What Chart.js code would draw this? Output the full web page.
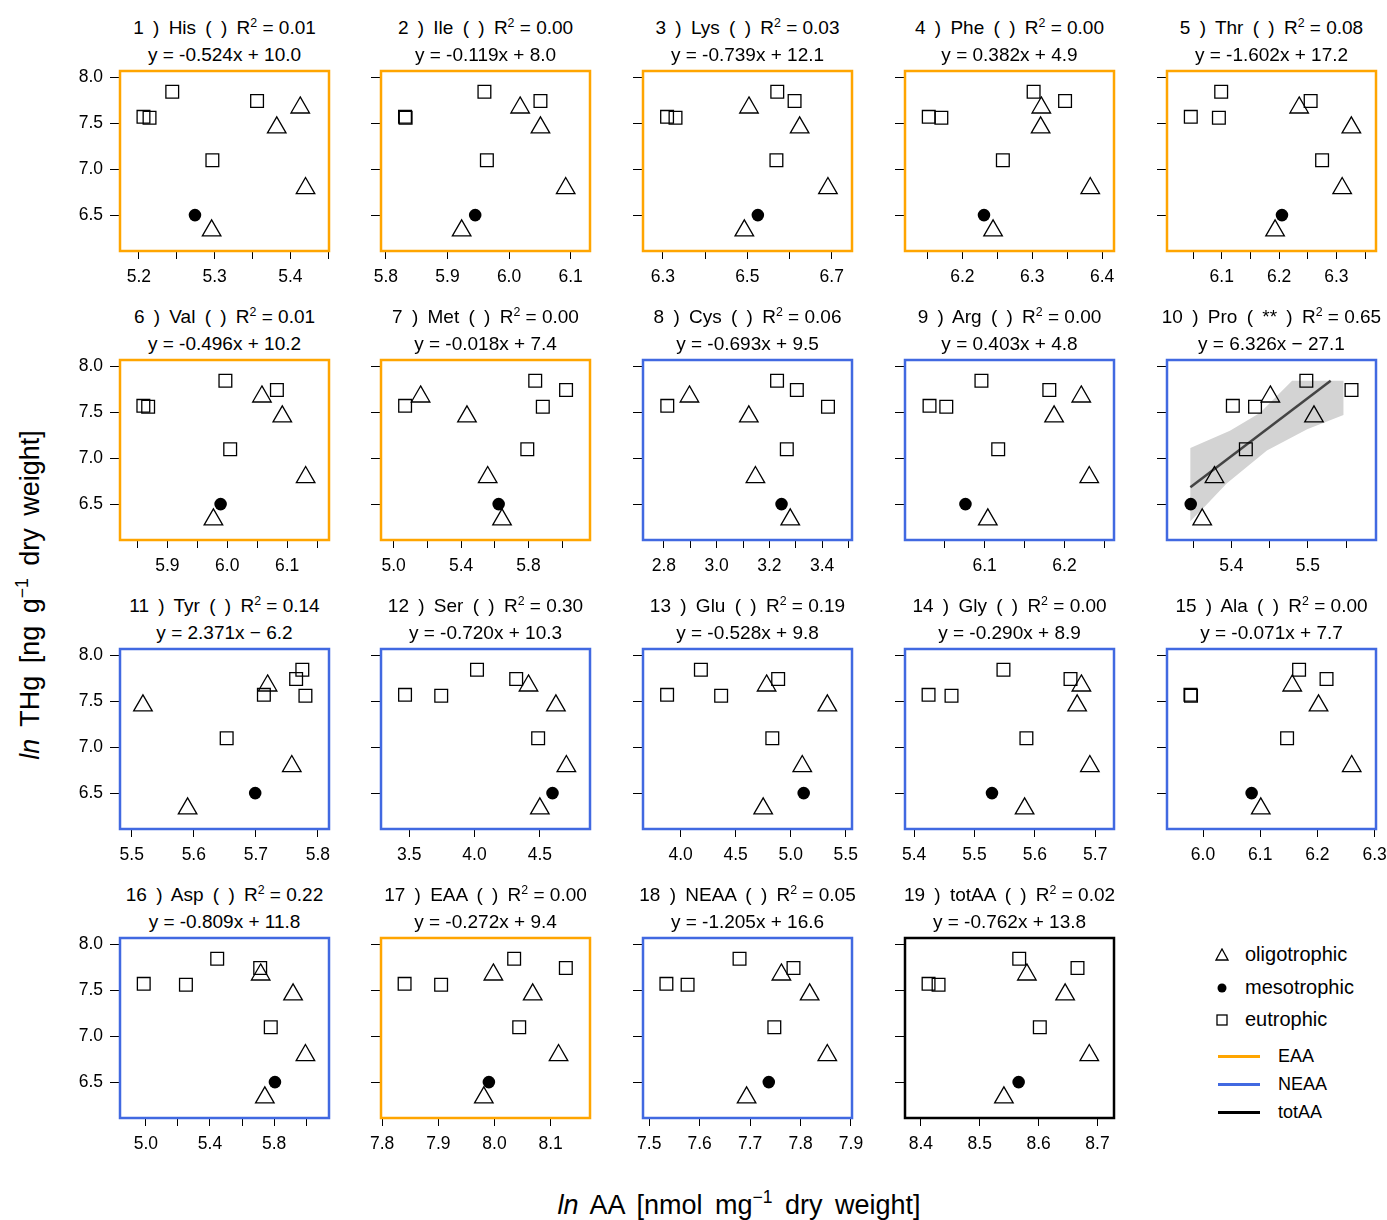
<!DOCTYPE html>
<html>
<head>
<meta charset="utf-8">
<script src="https://cdn.jsdelivr.net/npm/chart.js@4.4.1/dist/chart.umd.min.js"></script>
<style>
  body { margin: 0; background: #fff; width: 1387px; height: 1220px; position: relative; overflow: hidden;
         font-family: "Liberation Sans", Arial, sans-serif; color: #000; }
  canvas { position: absolute; }
  .ttl { position: absolute; width: 300px; text-align: center; font-size: 19px; line-height: 22px; white-space: nowrap; }
  .ws { word-spacing: 4px; }
  sup { font-size: 0.65em; line-height: 0; vertical-align: 0.6em; }
  .axt { position: absolute; font-size: 27px; line-height: 30px; white-space: nowrap; text-align: center; word-spacing: 5px; }
  .lg { position: absolute; white-space: nowrap; }
</style>
</head>
<body>
<script>
// ---- panel info ----
const aaNames = ['His', 'Ile', 'Lys', 'Phe', 'Thr', 'Val', 'Met', 'Cys', 'Arg', 'Pro',
                 'Tyr', 'Ser', 'Glu', 'Gly', 'Ala', 'Asp', 'EAA', 'NEAA', 'totAA'];
const aaClass = ['EAA', 'EAA', 'EAA', 'EAA', 'EAA', 'EAA', 'EAA', 'NEAA', 'NEAA', 'NEAA',
                 'NEAA', 'NEAA', 'NEAA', 'NEAA', 'NEAA', 'NEAA', 'EAA', 'NEAA', 'totAA'];
const signif = ['', '', '', '', '', '', '', '', '', '**', '', '', '', '', '', '', '', '', ''];
const r2Text = ['0.01', '0.00', '0.03', '0.00', '0.08', '0.01', '0.00', '0.06', '0.00', '0.65',
                '0.14', '0.30', '0.19', '0.00', '0.00', '0.22', '0.00', '0.05', '0.02'];
const fitText = ['y = -0.524x + 10.0', 'y = -0.119x + 8.0', 'y = -0.739x + 12.1', 'y = 0.382x + 4.9',
                 'y = -1.602x + 17.2', 'y = -0.496x + 10.2', 'y = -0.018x + 7.4', 'y = -0.693x + 9.5',
                 'y = 0.403x + 4.8', 'y = 6.326x \u2212 27.1', 'y = 2.371x \u2212 6.2', 'y = -0.720x + 10.3',
                 'y = -0.528x + 9.8', 'y = -0.290x + 8.9', 'y = -0.071x + 7.7', 'y = -0.809x + 11.8',
                 'y = -0.272x + 9.4', 'y = -1.205x + 16.6', 'y = -0.762x + 13.8'];

// ---- ln THg (same samples in every panel) ----
const yOligo = [7.671, 7.454, 6.796, 6.336];
const yMeso = [6.504];
const yEutro = [7.843, 7.743, 7.571, 7.561, 7.100];

// ---- ln AA per panel ----
const xOligo = [
  [5.413, 5.382, 5.420, 5.296], [6.018, 6.051, 6.092, 5.923], [6.504, 6.624, 6.691, 6.493],
  [6.313, 6.312, 6.383, 6.244], [6.235, 6.326, 6.310, 6.193], [6.058, 6.092, 6.131, 5.977],
  [5.160, 5.435, 5.558, 5.643], [2.897, 3.122, 3.147, 3.279], [6.221, 6.187, 6.231, 6.104],
  [5.451, 5.508, 5.378, 5.362], [5.719, 5.518, 5.758, 5.590], [4.413, 4.623, 4.703, 4.500],
  [4.781, 5.333, 5.105, 4.750], [5.677, 5.670, 5.691, 5.583], [6.156, 6.202, 6.260, 6.101],
  [5.716, 5.918, 5.995, 5.742], [7.998, 8.068, 8.114, 7.981], [7.762, 7.818, 7.853, 7.693],
  [8.580, 8.645, 8.686, 8.541]
];
const xMeso = [5.274, 5.945, 6.525, 6.231, 6.205, 5.989, 5.623, 3.246, 6.076, 5.347,
               5.699, 4.597, 5.118, 5.529, 6.085, 5.805, 7.990, 7.737, 8.566];
const xEutro = [
  [5.244, 5.356, 5.206, 5.214, 5.297], [5.960, 6.051, 5.831, 5.832, 5.964],
  [6.571, 6.612, 6.310, 6.330, 6.569], [6.302, 6.347, 6.152, 6.170, 6.258],
  [6.099, 6.255, 6.046, 6.095, 6.275], [5.997, 6.083, 5.860, 5.868, 6.005],
  [5.840, 6.023, 5.068, 5.885, 5.793], [3.229, 3.304, 2.813, 3.422, 3.266],
  [6.096, 6.181, 6.031, 6.052, 6.117], [5.498, 5.557, 5.402, 5.431, 5.419],
  [5.775, 5.765, 5.713, 5.780, 5.653], [4.019, 4.319, 3.468, 3.745, 4.487],
  [4.184, 4.886, 3.877, 4.368, 4.833], [5.548, 5.659, 5.424, 5.462, 5.586],
  [6.168, 6.216, 5.978, 5.979, 6.147], [5.445, 5.713, 4.987, 5.250, 5.779],
  [8.035, 8.127, 7.840, 7.905, 8.044], [7.679, 7.786, 7.534, 7.576, 7.748],
  [8.567, 8.666, 8.413, 8.430, 8.602]
];

// ---- axis ranges and ticks ----
const xMin = [5.175, 5.792, 6.253, 6.118, 6.0045, 5.821, 4.925, 2.721, 6.0003, 5.316,
              5.481, 3.284, 3.658, 5.385, 5.937, 4.839, 7.798, 7.4876, 8.373];
const xMax = [5.451, 6.1315, 6.748, 6.417, 6.369, 6.170, 6.165, 3.513, 6.262, 5.589,
              5.818, 4.884, 5.557, 5.731, 6.3025, 6.142, 8.170, 7.902, 8.728];
const xStep = [0.05, 0.1, 0.1, 0.05, 0.05, 0.05, 0.2, 0.1, 0.05, 0.05,
               0.1, 0.5, 0.5, 0.1, 0.1, 0.2, 0.1, 0.1, 0.1];
const xTickLabels = [
  [5.2, 5.3, 5.4], [5.8, 5.9, 6.0, 6.1], [6.3, 6.5, 6.7], [6.2, 6.3, 6.4], [6.1, 6.2, 6.3],
  [5.9, 6.0, 6.1], [5.0, 5.4, 5.8], [2.8, 3.0, 3.2, 3.4], [6.1, 6.2], [5.4, 5.5],
  [5.5, 5.6, 5.7, 5.8], [3.5, 4.0, 4.5], [4.0, 4.5, 5.0, 5.5], [5.4, 5.5, 5.6, 5.7],
  [6.0, 6.1, 6.2, 6.3], [5.0, 5.4, 5.8], [7.8, 7.9, 8.0, 8.1], [7.5, 7.6, 7.7, 7.8, 7.9],
  [8.4, 8.5, 8.6, 8.7]
];
const yMin = 6.114, yMax = 8.069, yStep = 0.5;

// ---- Pro fit (panel 10) ----
const proLineX = [5.3465, 5.5298];
const proLineY = [6.686, 7.843];
const proBandX = [5.3465, 5.3982, 5.4377, 5.4794, 5.5465, 5.5465, 5.4991, 5.4465, 5.3939, 5.3654, 5.3465];
const proBandY = [7.114, 7.300, 7.496, 7.843, 7.843, 7.471, 7.318, 7.086, 6.729, 6.479, 6.318];

// ---- layout ----
const classColor = { EAA: '#FFA500', NEAA: '#4169E1', totAA: '#000000' };
const colLeft = [120, 381, 643, 905, 1167];
const rowTop = [69, 358, 647, 936];
const boxW = 209, boxH = 182;
const AXW = 60, AXH = 40, PADT = 10, PADR = 20;

Chart.defaults.font.family = '"Liberation Sans", Arial, sans-serif';
Chart.defaults.font.size = 17.5;
Chart.defaults.color = '#000';

const framePlugin = {
  id: 'frame',
  afterDraw(chart, args, opts) {
    const { ctx, chartArea: a } = chart;
    ctx.save();
    ctx.strokeStyle = opts.color;
    ctx.lineWidth = 2.5;
    ctx.strokeRect(a.left, a.top, a.right - a.left, a.bottom - a.top);
    ctx.restore();
  }
};

function pts(xs, ys) {
  return xs.map(function (x, k) { return { x: x, y: ys[k] }; });
}

function makePanel(i) {
  const col = i % 5, row = Math.floor(i / 5);
  const left = colLeft[col], top = rowTop[row];

  const t1 = document.createElement('div');
  t1.className = 'ttl';
  t1.style.left = (left + boxW / 2 - 150) + 'px';
  t1.style.top = (top - 41 - 11) + 'px';
  t1.innerHTML = '<span class="ws">' + (i + 1) + ' ) ' + aaNames[i] + ' ( ' + signif[i] + ' ) R</span><sup>2</sup> = ' + r2Text[i];
  document.body.appendChild(t1);
  const t2 = document.createElement('div');
  t2.className = 'ttl';
  t2.style.left = (left + boxW / 2 - 150) + 'px';
  t2.style.top = (top - 14 - 11) + 'px';
  t2.textContent = fitText[i];
  document.body.appendChild(t2);

  const cv = document.createElement('canvas');
  cv.width = AXW + boxW + PADR;
  cv.height = PADT + boxH + AXH;
  cv.style.left = (left - AXW) + 'px';
  cv.style.top = (top - PADT) + 'px';
  document.body.appendChild(cv);

  const datasets = [
    {
      label: 'oligotrophic', data: pts(xOligo[i], yOligo), order: 1,
      pointStyle: 'triangle', pointRadius: 10.7, pointBorderWidth: 1.3,
      pointBorderColor: '#000', pointBackgroundColor: 'rgba(0,0,0,0)'
    },
    {
      label: 'mesotrophic', data: pts([xMeso[i]], yMeso), order: 1,
      pointStyle: 'circle', pointRadius: 6.3, pointBorderWidth: 0,
      pointBorderColor: '#000', pointBackgroundColor: '#000'
    },
    {
      label: 'eutrophic', data: pts(xEutro[i], yEutro), order: 1,
      pointStyle: 'rect', pointRadius: 9, pointBorderWidth: 1.3,
      pointBorderColor: '#000', pointBackgroundColor: 'rgba(0,0,0,0)'
    }
  ];
  if (aaNames[i] === 'Pro') {
    datasets.push({
      label: 'band', data: pts(proBandX, proBandY), order: 3, showLine: true,
      fill: 'shape', backgroundColor: '#d3d3d3', borderWidth: 0, borderColor: 'rgba(0,0,0,0)',
      pointRadius: 0, tension: 0
    });
    datasets.push({
      label: 'fit', data: pts(proLineX, proLineY), order: 2, showLine: true,
      borderColor: '#444444', borderWidth: 2.5, pointRadius: 0, fill: false
    });
  }

  new Chart(cv, {
    type: 'scatter',
    data: { datasets: datasets },
    plugins: [framePlugin],
    options: {
      responsive: false,
      animation: false,
      events: [],
      layout: { padding: { top: PADT, right: PADR, left: 0, bottom: 0 } },
      plugins: {
        legend: { display: false },
        tooltip: { enabled: false },
        frame: { color: classColor[aaClass[i]] }
      },
      scales: {
        x: {
          type: 'linear', position: 'bottom', min: xMin[i], max: xMax[i],
          afterFit: function (s) { s.height = AXH; s.paddingLeft = 0; s.paddingRight = 0; },
          grid: { display: true, drawOnChartArea: false, drawTicks: true, tickLength: 8, color: '#000', lineWidth: 1 },
          border: { display: false },
          ticks: {
            stepSize: xStep[i], includeBounds: false, autoSkip: false, maxRotation: 0, padding: 8,
            callback: function (v) {
              return xTickLabels[i].some(function (t) { return Math.abs(t - v) < 1e-6; }) ? v.toFixed(1) : '';
            }
          }
        },
        y: {
          type: 'linear', position: 'left', min: yMin, max: yMax,
          afterFit: function (s) { s.width = AXW; s.paddingTop = 0; s.paddingBottom = 0; },
          grid: { display: true, drawOnChartArea: false, drawTicks: true, tickLength: 10, color: '#000', lineWidth: 1 },
          border: { display: false },
          ticks: {
            stepSize: yStep, includeBounds: false, autoSkip: false, padding: 7,
            callback: function (v) { return col === 0 ? v.toFixed(1) : ''; }
          }
        }
      }
    }
  });
}

for (let i = 0; i < aaNames.length; i++) makePanel(i);

// ---- axis titles ----
const yt = document.createElement('div');
yt.className = 'axt';
yt.style.width = '440px';
yt.style.left = (30 - 220) + 'px';
yt.style.top = (595 - 15) + 'px';
yt.style.transform = 'rotate(-90deg)';
yt.innerHTML = '<i>ln</i> THg [ng g<sup>\u22121</sup> dry weight]';
document.body.appendChild(yt);

const xt = document.createElement('div');
xt.className = 'axt';
xt.style.width = '500px';
xt.style.left = (739 - 250) + 'px';
xt.style.top = (1205 - 15) + 'px';
xt.innerHTML = '<i>ln</i> AA [nmol mg<sup>\u22121</sup> dry weight]';
document.body.appendChild(xt);

// ---- legend ----
const legendSym = [
  { name: 'oligotrophic', y: 954, svg: '<polygon points="1,12 7,1 13,12" fill="none" stroke="#000" stroke-width="1.3"/>' },
  { name: 'mesotrophic', y: 987, svg: '<circle cx="7" cy="7" r="4.5" fill="#000"/>' },
  { name: 'eutrophic', y: 1019, svg: '<rect x="2" y="2" width="10" height="10" fill="none" stroke="#000" stroke-width="1.3"/>' }
];
legendSym.forEach(function (s) {
  const d = document.createElement('div');
  d.className = 'lg';
  d.style.left = '1215px';
  d.style.top = (s.y - 12) + 'px';
  d.style.fontSize = '20px';
  d.style.lineHeight = '24px';
  d.innerHTML = '<svg width="14" height="14" style="vertical-align:-1px">' + s.svg + '</svg>' +
    '<span style="margin-left:16px">' + s.name + '</span>';
  document.body.appendChild(d);
});
const legendLines = [
  { name: 'EAA', y: 1056 }, { name: 'NEAA', y: 1084 }, { name: 'totAA', y: 1112 }
];
legendLines.forEach(function (l) {
  const bar = document.createElement('div');
  bar.className = 'lg';
  bar.style.left = '1218px';
  bar.style.top = (l.y - 1.5) + 'px';
  bar.style.width = '42px';
  bar.style.height = '3px';
  bar.style.background = classColor[l.name];
  document.body.appendChild(bar);
  const tx = document.createElement('div');
  tx.className = 'lg';
  tx.style.left = '1278px';
  tx.style.top = (l.y - 11) + 'px';
  tx.style.fontSize = '18px';
  tx.style.lineHeight = '22px';
  tx.textContent = l.name;
  document.body.appendChild(tx);
});
</script>
</body>
</html>
